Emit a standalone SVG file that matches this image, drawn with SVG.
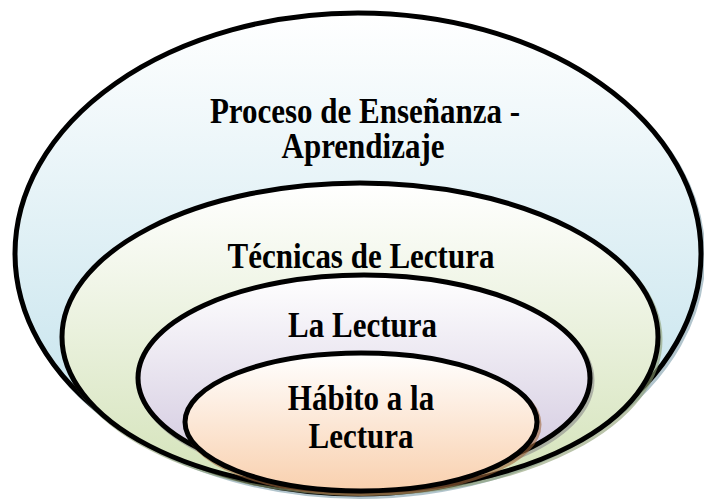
<svg xmlns="http://www.w3.org/2000/svg" width="704" height="499" viewBox="0 0 704 499">
  <defs>
    <linearGradient id="gBlue" x1="0" y1="0" x2="0" y2="1">
      <stop offset="0" stop-color="#ffffff"/>
      <stop offset="1" stop-color="#bcdfea"/>
    </linearGradient>
    <linearGradient id="gGreen" x1="0" y1="0" x2="0" y2="1">
      <stop offset="0" stop-color="#ffffff"/>
      <stop offset="1" stop-color="#d3e2b8"/>
    </linearGradient>
    <linearGradient id="gLav" x1="0" y1="0" x2="0" y2="1">
      <stop offset="0" stop-color="#ffffff"/>
      <stop offset="1" stop-color="#cfc5dd"/>
    </linearGradient>
    <linearGradient id="gPeach" x1="0" y1="0" x2="0" y2="1">
      <stop offset="0" stop-color="#ffffff"/>
      <stop offset="1" stop-color="#f9d0ae"/>
    </linearGradient>
  </defs>
  <style>
    .ring { stroke: #000000; stroke-width: 5; }
    .shadow { fill: none; stroke-width: 5; opacity: 0.6; }
    .lbl { font-family: "Liberation Serif", "Times New Roman", serif; font-weight: bold; font-size: 31px; fill: #000000; text-anchor: middle; }
  </style>

  <g id="node-proceso">
    <ellipse class="shadow" cx="360" cy="256" rx="343" ry="240.5" stroke="#7f9fab"/>
    <ellipse class="ring" cx="358" cy="253.5" rx="343" ry="240.5" fill="url(#gBlue)"/>
    <text class="lbl" transform="translate(365 123) scale(1 1.13)">Proceso de Enseñanza -</text>
    <text class="lbl" transform="translate(363 158) scale(1 1.13)">Aprendizaje</text>
  </g>

  <g id="node-tecnicas">
    <ellipse class="shadow" cx="362" cy="339.5" rx="298" ry="154" stroke="#8c9c72"/>
    <ellipse class="ring" cx="360" cy="337" rx="298" ry="154" fill="url(#gGreen)"/>
    <text class="lbl" transform="translate(361 268) scale(1 1.13)">Técnicas de Lectura</text>
  </g>

  <g id="node-lectura">
    <ellipse class="shadow" cx="366" cy="380.5" rx="226" ry="103" stroke="#8a8a8a"/>
    <ellipse class="ring" cx="364" cy="378" rx="226" ry="103" fill="url(#gLav)"/>
    <text class="lbl" transform="translate(362.5 337) scale(1 1.13)">La Lectura</text>
  </g>

  <g id="node-habito">
    <ellipse class="shadow" cx="363" cy="424.5" rx="176" ry="69" stroke="#a0683c"/>
    <ellipse class="ring" cx="361" cy="422" rx="176" ry="69" fill="url(#gPeach)"/>
    <text class="lbl" transform="translate(361 410) scale(1 1.13)">Hábito a la</text>
    <text class="lbl" transform="translate(361 448) scale(1 1.13)">Lectura</text>
  </g>

  <g id="connectors"/>
</svg>
